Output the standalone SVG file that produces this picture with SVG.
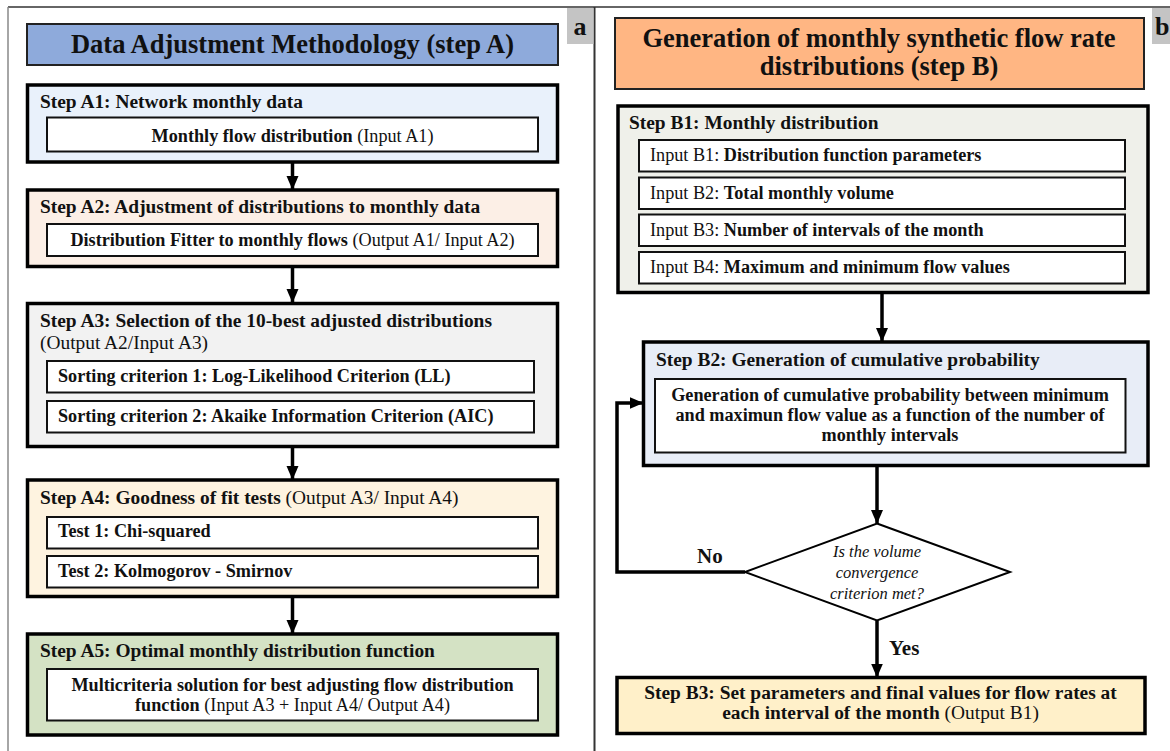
<svg xmlns="http://www.w3.org/2000/svg" width="1170" height="751" viewBox="0 0 1170 751">
<defs>
<marker id="ah" markerUnits="userSpaceOnUse" markerWidth="14" markerHeight="14" viewBox="0 0 14 14" refX="13" refY="7" orient="auto">
<path d="M0,1 L14,7 L0,13 Z" fill="#000"/>
</marker>
<style>
text{font-family:"Liberation Serif","Times New Roman",serif;fill:#111}
.t{font-size:26.5px;font-weight:bold;text-anchor:middle}
.h{font-size:19.4px;font-weight:bold}
.i{font-size:18.2px;font-weight:bold}
.r{font-weight:normal}
.c{text-anchor:middle}
.ob{stroke:#000;stroke-width:3.5}
.ib{fill:#fff;stroke:#111;stroke-width:2}
.tb{stroke:#222;stroke-width:2}
.lbl{font-size:26px;font-weight:bold}
.conn{fill:none;stroke:#000;stroke-width:3.5}
.yn{font-size:21px;font-weight:bold}
.q{font-size:16.5px;font-style:italic;text-anchor:middle}
</style>
</defs>
<rect width="1170" height="751" fill="#fff"/>
<g id="frame">
<line x1="8" y1="7" x2="1170" y2="7" stroke="#666" stroke-width="2"/>
<line x1="8" y1="7" x2="8" y2="751" stroke="#888" stroke-width="1.5"/>
<line x1="594.5" y1="7" x2="594.5" y2="751" stroke="#333" stroke-width="2"/>
<rect x="567" y="8" width="26.5" height="36" fill="#c4c4c4"/>
<text class="lbl" x="580" y="35" text-anchor="middle">a</text>
<rect x="1152" y="8" width="18" height="36" fill="#c4c4c4"/>
<text class="lbl" x="1155" y="35">b</text>
</g>
<g id="titleA">
<rect class="tb" x="27" y="24" width="531" height="41" fill="#8eaadb"/>
<text class="t" x="292.5" y="53">Data Adjustment Methodology (step A)</text>
</g>
<g id="A1">
<rect class="ob" x="27.5" y="85" width="530" height="77" fill="#e9f1fb"/>
<text class="h" x="40" y="108">Step A1: Network monthly data</text>
<rect class="ib" x="47" y="117.5" width="491" height="34"/>
<text class="i c" x="292.5" y="141.5">Monthly flow distribution<tspan class="r"> (Input A1)</tspan></text>
</g>
<g id="A2">
<rect class="ob" x="27.5" y="190" width="530" height="76.5" fill="#fcefe6"/>
<text class="h" x="40" y="213">Step A2: Adjustment of distributions to monthly data</text>
<rect class="ib" x="47" y="224" width="491" height="32"/>
<text class="i c" x="292.5" y="245.5">Distribution Fitter to monthly flows<tspan class="r"> (Output A1/ Input A2)</tspan></text>
</g>
<g id="A3">
<rect class="ob" x="27.5" y="303.5" width="530" height="143" fill="#f2f2f2"/>
<text class="h" x="40" y="327">Step A3: Selection of the 10-best adjusted distributions</text>
<text class="h r" x="40" y="348.5">(Output A2/Input A3)</text>
<rect class="ib" x="47" y="361" width="487" height="31.5"/>
<text class="i" x="58" y="382">Sorting criterion 1: Log-Likelihood Criterion (LL)</text>
<rect class="ib" x="47" y="401" width="487" height="31.5"/>
<text class="i" x="58" y="422">Sorting criterion 2: Akaike Information Criterion (AIC)</text>
</g>
<g id="A4">
<rect class="ob" x="27.5" y="480" width="530" height="116.5" fill="#fef3e0"/>
<text class="h" x="40" y="503.5">Step A4: Goodness of fit tests<tspan class="r"> (Output A3/ Input A4)</tspan></text>
<rect class="ib" x="47" y="517" width="491" height="31.5"/>
<text class="i" x="58" y="537">Test 1: Chi-squared</text>
<rect class="ib" x="47" y="556" width="491" height="31.5"/>
<text class="i" x="58" y="577">Test 2: Kolmogorov - Smirnov</text>
</g>
<g id="A5">
<rect class="ob" x="27.5" y="634" width="530" height="101" fill="#d4e2c4"/>
<text class="h" x="40" y="657">Step A5: Optimal monthly distribution function</text>
<rect class="ib" x="47" y="669" width="491" height="51.5"/>
<text class="i c" x="292.5" y="690.5">Multicriteria solution for best adjusting flow distribution</text>
<text class="i c" x="292.5" y="710.5">function<tspan class="r"> (Input A3 + Input A4/ Output A4)</tspan></text>
</g>
<g id="titleB">
<rect class="tb" x="615" y="18" width="529" height="71" fill="#ffb683"/>
<text class="t" x="879" y="46.5">Generation of monthly synthetic flow rate</text>
<text class="t" x="879" y="75">distributions (step B)</text>
</g>
<g id="B1">
<rect class="ob" x="618" y="106" width="530" height="186.5" fill="#eff0ea"/>
<text class="h" x="629" y="128.5">Step B1: Monthly distribution</text>
<rect class="ib" x="639" y="140" width="486" height="31.5"/>
<text class="i" x="650" y="161"><tspan class="r">Input B1: </tspan>Distribution function parameters</text>
<rect class="ib" x="639" y="177.5" width="486" height="31.5"/>
<text class="i" x="650" y="198.5"><tspan class="r">Input B2: </tspan>Total monthly volume</text>
<rect class="ib" x="639" y="214.5" width="486" height="31.5"/>
<text class="i" x="650" y="235.5"><tspan class="r">Input B3: </tspan>Number of intervals of the month</text>
<rect class="ib" x="639" y="252" width="486" height="31.5"/>
<text class="i" x="650" y="273"><tspan class="r">Input B4: </tspan>Maximum and minimum flow values</text>
</g>
<g id="B2">
<rect class="ob" x="643.5" y="342" width="504.5" height="123.5" fill="#e8edf7"/>
<text class="h" x="656" y="365.5">Step B2: Generation of cumulative probability</text>
<rect class="ib" x="655" y="379" width="470.5" height="73.5"/>
<text class="i c" x="890" y="400.5">Generation of cumulative probability between minimum</text>
<text class="i c" x="890" y="420.5">and maximun flow value as a function of the number of</text>
<text class="i c" x="890" y="440.5">monthly intervals</text>
</g>
<g id="decision">
<polygon points="877,523.5 1010,572 877,620.5 745,572" fill="#fff" stroke="#000" stroke-width="2"/>
<text class="q" x="877" y="556.5">Is the volume</text>
<text class="q" x="877" y="578">convergence</text>
<text class="q" x="877" y="598.5">criterion met?</text>
</g>
<g id="B3">
<rect class="ob" x="617" y="677.5" width="528" height="56" fill="#fff0c9"/>
<text class="h c" x="880.5" y="698.5">Step B3: Set parameters and final values for flow rates at</text>
<text class="h c" x="880.5" y="718.5">each interval of the month<tspan class="r"> (Output B1)</tspan></text>
</g>
<g id="connectors">
<line class="conn" x1="292.5" y1="162" x2="292.5" y2="189" marker-end="url(#ah)"/>
<line class="conn" x1="292.5" y1="266.5" x2="292.5" y2="302" marker-end="url(#ah)"/>
<line class="conn" x1="292.5" y1="446.5" x2="292.5" y2="479" marker-end="url(#ah)"/>
<line class="conn" x1="292.5" y1="596.5" x2="292.5" y2="633" marker-end="url(#ah)"/>
<line class="conn" x1="882" y1="292.5" x2="882" y2="341" marker-end="url(#ah)"/>
<line class="conn" x1="877" y1="465.5" x2="877" y2="523" marker-end="url(#ah)"/>
<line class="conn" x1="877" y1="621" x2="877" y2="676.5" marker-end="url(#ah)"/>
<polyline class="conn" points="745,572 617,572 617,403 642.5,403" marker-end="url(#ah)"/>
<text class="yn" x="697" y="563">No</text>
<text class="yn" x="889" y="655">Yes</text>
</g>
</svg>
